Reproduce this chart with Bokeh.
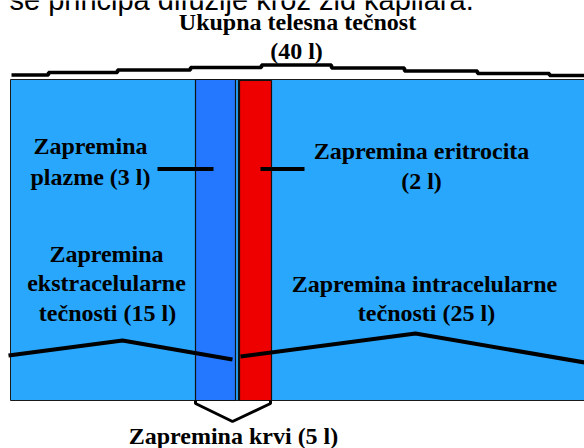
from bokeh.plotting import figure
from bokeh.models import Range1d, ColumnDataSource
from bokeh.core.properties import value
from bokeh.embed import file_html
from bokeh.resources import INLINE

# ---- data (volumes in litres) ----
total_volume = 40
plasma_volume = 3
erythrocyte_volume = 2
extracellular_volume = 15
intracellular_volume = 25
blood_volume = 5

# ---- label texts ----
label_texts = [
    "Ukupna telesna tečnost", f"({total_volume} l)",
    "Zapremina", f"plazme ({plasma_volume} l)",
    "Zapremina eritrocita", f"({erythrocyte_volume} l)",
    "Zapremina", "ekstracelularne", f"tečnosti ({extracellular_volume} l)",
    "Zapremina intracelularne", f"tečnosti ({intracellular_volume} l)",
    f"Zapremina krvi ({blood_volume} l)",
]
label_x = [297, 296, 90, 90, 421, 421, 106, 106, 107, 424, 426, 233]
label_y = [21, 50, 145, 176, 150, 180, 253, 282, 312, 283, 312, 435]

caption_text = "se principa difuzije kroz zid kapilara."

# ---- diagram geometry (screen pixels) ----
body_box = dict(left=10, right=600, top=79, bottom=400)
plasma_box = dict(left=195, right=235, top=79, bottom=400)
red_box = dict(left=239, right=271, top=80, bottom=400)
membrane_x = [238, 238]
membrane_y = [79, 400]

roof_edges = [11, 48, 117, 190, 261, 331, 404, 477, 549, 590]
roof_levels = [74.5, 72, 69.5, 67, 64.5, 67.5, 70.5, 73, 75]

wave_left_x = [8, 122, 232]
wave_left_y = [355, 340, 359]
wave_right_x = [240, 415, 590]
wave_right_y = [356, 333, 363]

tick_plasma_x = [157, 213]
tick_red_x = [260, 304]
tick_y = [168.5, 168.5]

bracket_x = [195, 195, 232, 270, 270]
bracket_y = [400, 403, 421, 403, 400]

LIGHT_BLUE = "#29A7FC"
PLASMA_BLUE = "#2378FF"
RED = "#EE0000"

p = figure(width=584, height=448, x_range=Range1d(0, 584), y_range=Range1d(448, 0),
           output_backend="svg", toolbar_location=None, min_border=0,
           x_axis_location=None, y_axis_location=None)
p.grid.visible = False
p.outline_line_color = None
p.background_fill_color = "white"
p.border_fill_color = "white"

p.quad(**body_box, fill_color=LIGHT_BLUE, line_color="#1a1a1a", line_width=1)
p.quad(**plasma_box, fill_color=PLASMA_BLUE, line_color="#111111", line_width=1.2)
p.quad(**red_box, fill_color=RED, line_color="#111111", line_width=1.2)
p.line(membrane_x, membrane_y, line_color="#111111", line_width=1.2)

# stepped roof line
rx, ry = [], []
for i, lvl in enumerate(roof_levels):
    rx += [roof_edges[i], roof_edges[i + 1]]
    ry += [lvl, lvl]
p.line(rx, ry, line_color="black", line_width=3.5)

p.line(wave_left_x, wave_left_y, line_color="black", line_width=4)
p.line(wave_right_x, wave_right_y, line_color="black", line_width=4)
p.line(tick_plasma_x, tick_y, line_color="black", line_width=4)
p.line(tick_red_x, tick_y, line_color="black", line_width=4)
p.line(bracket_x, bracket_y, line_color="black", line_width=3)

src = ColumnDataSource(dict(x=label_x, y=label_y, t=label_texts))
p.text(x="x", y="y", text="t", source=src, text_font=value("Liberation Serif"),
       text_font_style="bold", text_font_size="24px", text_align="center",
       text_baseline="alphabetic", text_color="black")

p.text(x=[9], y=[-1], text=[caption_text], text_font=value("Liberation Sans"),
       text_font_size="29px", text_align="left", text_baseline="alphabetic",
       text_color="black")

open("out.html", "w").write(file_html(p, INLINE))
